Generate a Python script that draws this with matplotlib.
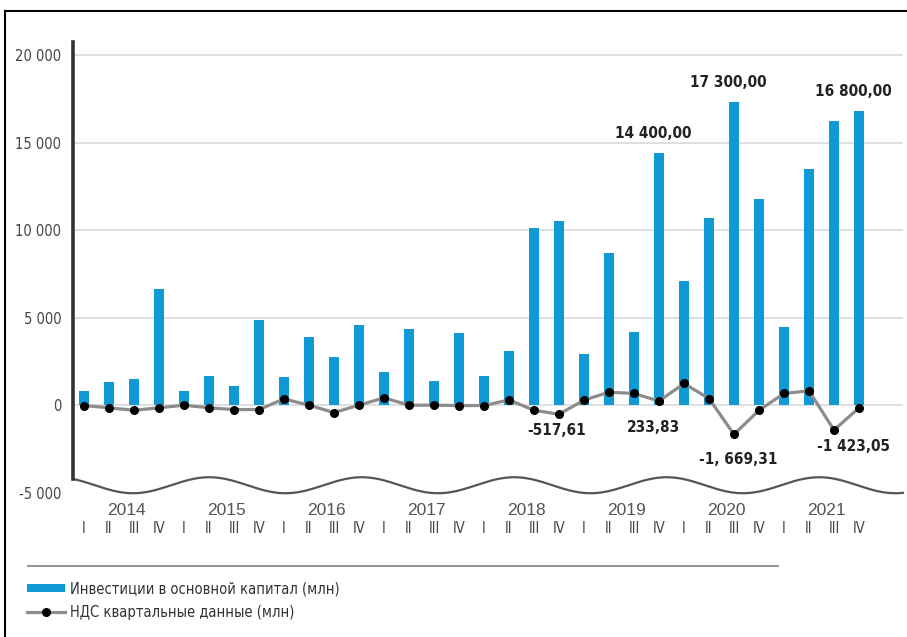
import numpy as np
import matplotlib
matplotlib.use("Agg")
import matplotlib.pyplot as plt
from matplotlib import font_manager as fm
from matplotlib.lines import Line2D

# quarterly data 2014..2021, values in mln
years = ["2014", "2015", "2016", "2017", "2018", "2019", "2020", "2021"]
quarters = ["I", "II", "III", "IV"]

invest = [800, 1300, 1490, 6630,
          800, 1660, 1090, 4860,
          1620, 3870, 2760, 4570,
          1870, 4340, 1390, 4150,
          1660, 3090, 10100, 10500,
          2950, 8700, 4190, 14400,
          7090, 10670, 17300, 11750,
          4480, 13470, 16250, 16800]

vat = [-20, -150, -290, -150,
       0, -150, -250, -250,
       360, 0, -420, 0,
       420, 0, 0, -20,
       -20, 300, -290, -517.61,
       290, 740, 670, 233.83,
       1240, 380, -1669.31, -290,
       670, 820, -1423.05, -150]

invest_label_idx = [23, 26, 31]
vat_label_idx = [19, 23, 26, 30]
vat_label_text = ["-517,61", "233,83", "-1, 669,31", "-1 423,05"]

yticks = [-5000, 0, 5000, 10000, 15000, 20000]

BLUE = "#0f9ad6"


def narrow_font(bold=False):
    """Find a condensed/narrow face on the system, else plain DejaVu Sans."""
    best = None
    for f in fm.fontManager.ttflist:
        name = f.name + " " + f.fname
        is_narrow = (f.stretch in ("condensed", "semi-condensed", "extra-condensed")
                     or "Narrow" in name or "Condensed" in name)
        if not is_narrow or "Mono" in name or "Serif" in name or "Oblique" in name \
                or "Italic" in name:
            continue
        w = f.weight if isinstance(f.weight, int) else (700 if "bold" in str(f.weight) else 400)
        if (w >= 600) != bold:
            continue
        best = f.fname
        if "Liberation" in name or "DejaVu" in name:
            break
    if best:
        return fm.FontProperties(fname=best)
    return fm.FontProperties(family="DejaVu Sans", weight="bold" if bold else "normal")


def ru_num(v, dec=0):
    s = f"{v:,.{dec}f}"
    return s.replace(",", " ").replace(".", ",")


nf = narrow_font()
nfb = narrow_font(bold=True)

W, H = 907, 637
fig = plt.figure(figsize=(W / 100, H / 100), dpi=100)
ax = fig.add_axes([73 / W, 1 - 498 / H, 830 / W, 456 / H])

x = np.arange(len(invest))
ax.set_xlim(-0.44, 32.76)
ax.set_ylim(-5300, 20740)

for y in yticks[1:]:
    ax.axhline(y, color="#d9d9d9", lw=1.2, zorder=1)

bars = ax.bar(x, invest, width=0.38, color=BLUE, zorder=2)
line, = ax.plot(x, vat, color="#8c8c8c", lw=2.3, marker="o", ms=5.5,
                mfc="black", mec="black", zorder=3)

# value labels over the tallest bars
for i in invest_label_idx:
    ax.annotate(ru_num(invest[i], 2), (x[i], invest[i]), xytext=(-4, 14),
                textcoords="offset points", ha="center", va="center",
                fontproperties=nfb, fontsize=11, color="#222")

vat_offsets = [(-2, -12), (-4, -19), (3, -18), (14, -12)]
for i, txt, off in zip(vat_label_idx, vat_label_text, vat_offsets):
    ax.annotate(txt, (x[i], vat[i]), xytext=off, textcoords="offset points",
                ha="center", va="center", fontproperties=nfb,
                fontsize=11, color="#222")

# wavy break line along the bottom
xs = np.linspace(-0.44, 32.76, 500)
wave = -4571 - 457 * np.cos(2 * np.pi * (xs - 1.96) / 6.1)
ax.plot(xs, wave, color="#555555", lw=1.6, clip_on=False, zorder=2)

for s in ["top", "right", "bottom"]:
    ax.spines[s].set_visible(False)
ax.spines["left"].set_bounds(wave[0], 20740)
ax.spines["left"].set_linewidth(2.6)
ax.spines["left"].set_color("#333333")

ax.set_xticks([])
ax.set_yticks(yticks)
ax.set_yticklabels([ru_num(v) for v in yticks])
ax.tick_params(axis="y", left=False, pad=5, labelcolor="#444444")
for lbl in ax.get_yticklabels():
    lbl.set_fontproperties(nf)
    lbl.set_fontsize(10.5)

# quarter and year labels under the axis
for i in x:
    ax.text(i, -7050, quarters[i % 4], ha="center", va="center",
            fontproperties=nf, fontsize=10.5, color="#444444", clip_on=False)
for k, yr in enumerate(years):
    ax.text(4 * k + 1.7, -6000, yr, ha="center", va="center",
            family=["Liberation Sans", "DejaVu Sans"], fontsize=12.5,
            color="#555555", clip_on=False)

# frame lines and legend separator
fig.add_artist(Line2D([5 / W, 1], [1 - 11 / H] * 2, color="black", lw=1.5))
fig.add_artist(Line2D([5 / W] * 2, [0, 1 - 11 / H], color="black", lw=1.5))
fig.add_artist(Line2D([28 / W, 778 / W], [1 - 566 / H] * 2, color="#8a8a8a", lw=1.3))

leg_prop = nf.copy()
leg_prop.set_size(10.5)
ax.legend([bars, line],
          ["Инвестиции в основной капитал (млн)", "НДС квартальные данные (млн)"],
          loc="upper left", bbox_to_anchor=(27 / W, 1 - 581 / H),
          bbox_transform=fig.transFigure, frameon=False, borderpad=0,
          borderaxespad=0, handlelength=2.6, handleheight=0.5,
          handletextpad=0.35, labelspacing=0.6,
          prop=leg_prop, labelcolor="#333333")

fig.savefig("out.png", dpi=100)
